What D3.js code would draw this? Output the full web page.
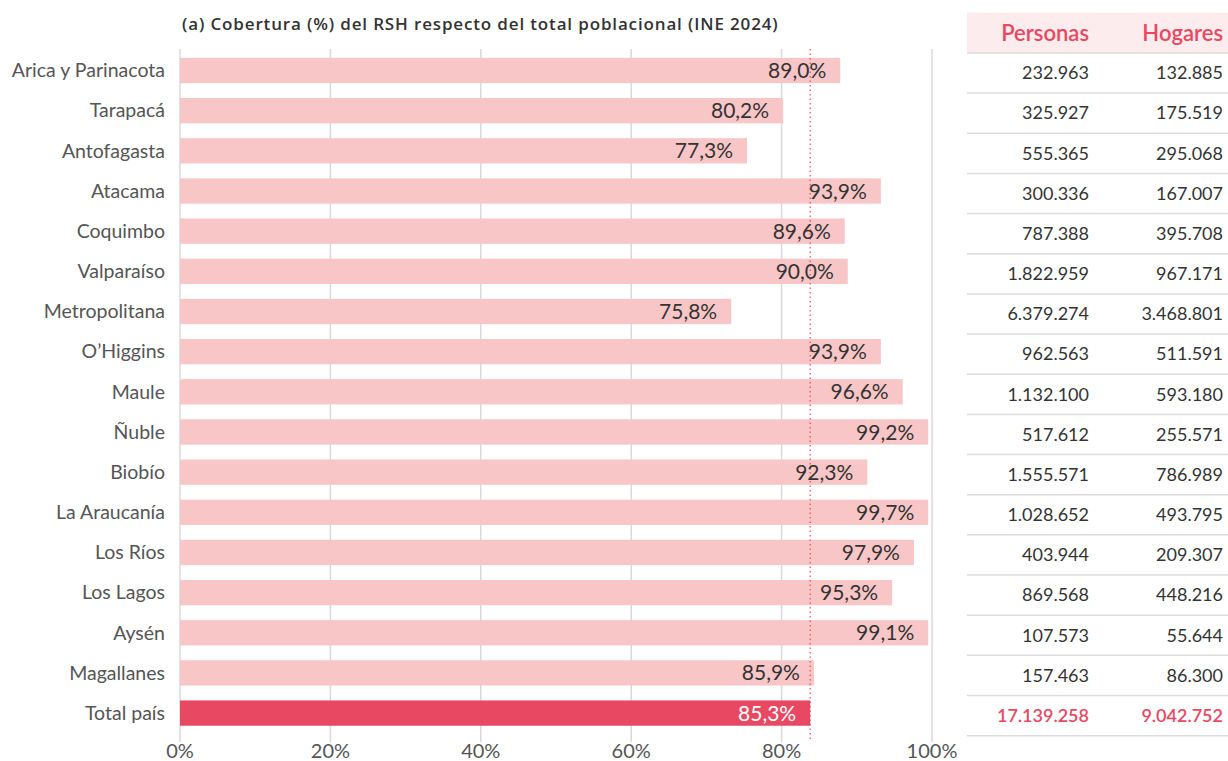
<!DOCTYPE html>
<html lang="es">
<head>
<meta charset="UTF-8">
<title>Cobertura RSH</title>
<script src="https://d3js.org/d3.v7.min.js"></script>
<style>
    body { margin: 0; background: white; }
    svg { display: block; font-family: Lato, "Open Sans", sans-serif; }
</style>
</head>
<body>
<svg width="1228" height="761"></svg>
<script>
// regiones, de norte a sur, y total
const regiones = ["Arica y Parinacota", "Tarapacá", "Antofagasta", "Atacama", "Coquimbo",
    "Valparaíso", "Metropolitana", "O’Higgins", "Maule", "Ñuble", "Biobío", "La Araucanía",
    "Los Ríos", "Los Lagos", "Aysén", "Magallanes", "Total país"];

// cobertura (%) según la etiqueta
const cobertura = [89.0, 80.2, 77.3, 93.9, 89.6, 90.0, 75.8, 93.9, 96.6, 99.2, 92.3, 99.7,
    97.9, 95.3, 99.1, 85.9, 85.3];

// largo de barra (%)
const barra = [87.8, 80.2, 75.4, 93.2, 88.4, 88.8, 73.3, 93.2, 96.1, 99.5, 91.4, 99.5,
    97.6, 94.7, 99.5, 84.3, 83.8];

const personas = [232963, 325927, 555365, 300336, 787388, 1822959, 6379274, 962563, 1132100,
    517612, 1555571, 1028652, 403944, 869568, 107573, 157463, 17139258];
const hogares = [132885, 175519, 295068, 167007, 395708, 967171, 3468801, 511591, 593180,
    255571, 786989, 493795, 209307, 448216, 55644, 86300, 9042752];

const ticks = [0, 20, 40, 60, 80, 100];

const rosa = "#f8c6c6", rojo = "#e84862";

const es = d3.formatLocale({decimal: ",", thousands: ".", grouping: [3], currency: ["$", ""]});
const fmtPct = d => es.format(".1f")(d) + "%";
const fmtNum = es.format(",d");

const svg = d3.select("svg");
const data = regiones.map((r, i) => ({r, c: cobertura[i], b: barra[i], p: personas[i], h: hogares[i]}));
const total = data[data.length - 1];

const x = d3.scaleLinear().domain([0, 100]).range([180, 932]);
const y = d3.scaleBand().domain(regiones).range([43, 740.6]).padding(0.37);

// grilla
svg.append("g").selectAll("line")
    .data(ticks).join("line")
    .attr("x1", d => x(d)).attr("x2", d => x(d))
    .attr("y1", 49).attr("y2", 742)
    .attr("stroke", "#d9d9d9").attr("stroke-width", 1.5);

svg.append("g").selectAll("text")
    .data(ticks).join("text")
    .attr("x", d => x(d)).attr("y", 758)
    .attr("text-anchor", "middle")
    .attr("font-size", 20).attr("fill", "#555")
    .text(d => d + "%");

// barras
svg.append("g").selectAll("rect")
    .data(data).join("rect")
    .attr("x", x(0)).attr("y", d => y(d.r))
    .attr("width", d => x(d.b) - x(0)).attr("height", y.bandwidth())
    .attr("fill", d => d === total ? rojo : rosa);

// línea del total país
svg.append("line")
    .attr("x1", x(total.b)).attr("x2", x(total.b))
    .attr("y1", 49).attr("y2", 742)
    .attr("stroke", rojo).attr("stroke-width", 1.2)
    .attr("stroke-dasharray", "1.5,3");

svg.append("g").selectAll("text")
    .data(data).join("text")
    .attr("x", d => x(d.b) - 14).attr("y", d => y(d.r) + y.bandwidth() / 2)
    .attr("dy", "0.36em").attr("text-anchor", "end")
    .attr("font-size", 21)
    .attr("fill", d => d === total ? "white" : "#333")
    .text(d => fmtPct(d.c));

svg.append("g").selectAll("text")
    .data(data).join("text")
    .attr("x", 165).attr("y", d => y(d.r) + y.bandwidth() / 2)
    .attr("dy", "0.35em").attr("text-anchor", "end")
    .attr("font-size", 19.5).attr("fill", "#555")
    .text(d => d.r);

svg.append("text")
    .attr("x", 182).attr("y", 30)
    .attr("font-family", "'Open Sans', sans-serif")
    .attr("font-size", 17).attr("font-weight", 600).attr("fill", "#333")
    .attr("letter-spacing", 0.85)
    .text("(a) Cobertura (%) del RSH respecto del total poblacional (INE 2024)");

// tabla
const tx0 = 967, tx1 = 1228, colP = 1089, colH = 1223;
const fila = d => y(d.r) + y.bandwidth() / 2 + 2.5;
const paso = y.step();

svg.append("rect")
    .attr("x", tx0).attr("y", fila(data[0]) - paso * 1.5)
    .attr("width", tx1 - tx0).attr("height", paso)
    .attr("fill", "#fdeced");

svg.selectAll(".enc")
    .data([["Personas", colP], ["Hogares", colH]]).join("text")
    .attr("x", d => d[1]).attr("y", fila(data[0]) - paso)
    .attr("dy", "0.35em").attr("text-anchor", "end")
    .attr("font-size", 22).attr("font-weight", 600).attr("fill", rojo)
    .text(d => d[0]);

svg.append("g").selectAll("line")
    .data(data).join("line")
    .attr("x1", tx0).attr("x2", tx1)
    .attr("y1", d => fila(d) + paso / 2).attr("y2", d => fila(d) + paso / 2)
    .attr("stroke", "#dcdcdc").attr("stroke-width", 1.5);

svg.append("line")
    .attr("x1", tx0).attr("x2", tx1)
    .attr("y1", fila(data[0]) - paso / 2).attr("y2", fila(data[0]) - paso / 2)
    .attr("stroke", "#dcdcdc").attr("stroke-width", 1.5);

const celdas = svg.append("g").selectAll("g")
    .data(data).join("g")
    .attr("font-size", 18)
    .attr("fill", d => d === total ? rojo : "#333")
    .attr("font-weight", d => d === total ? 600 : 400);

celdas.append("text")
    .attr("x", colP).attr("y", fila).attr("dy", "0.35em").attr("text-anchor", "end")
    .text(d => fmtNum(d.p));
celdas.append("text")
    .attr("x", colH).attr("y", fila).attr("dy", "0.35em").attr("text-anchor", "end")
    .text(d => fmtNum(d.h));
</script>
</body>
</html>
